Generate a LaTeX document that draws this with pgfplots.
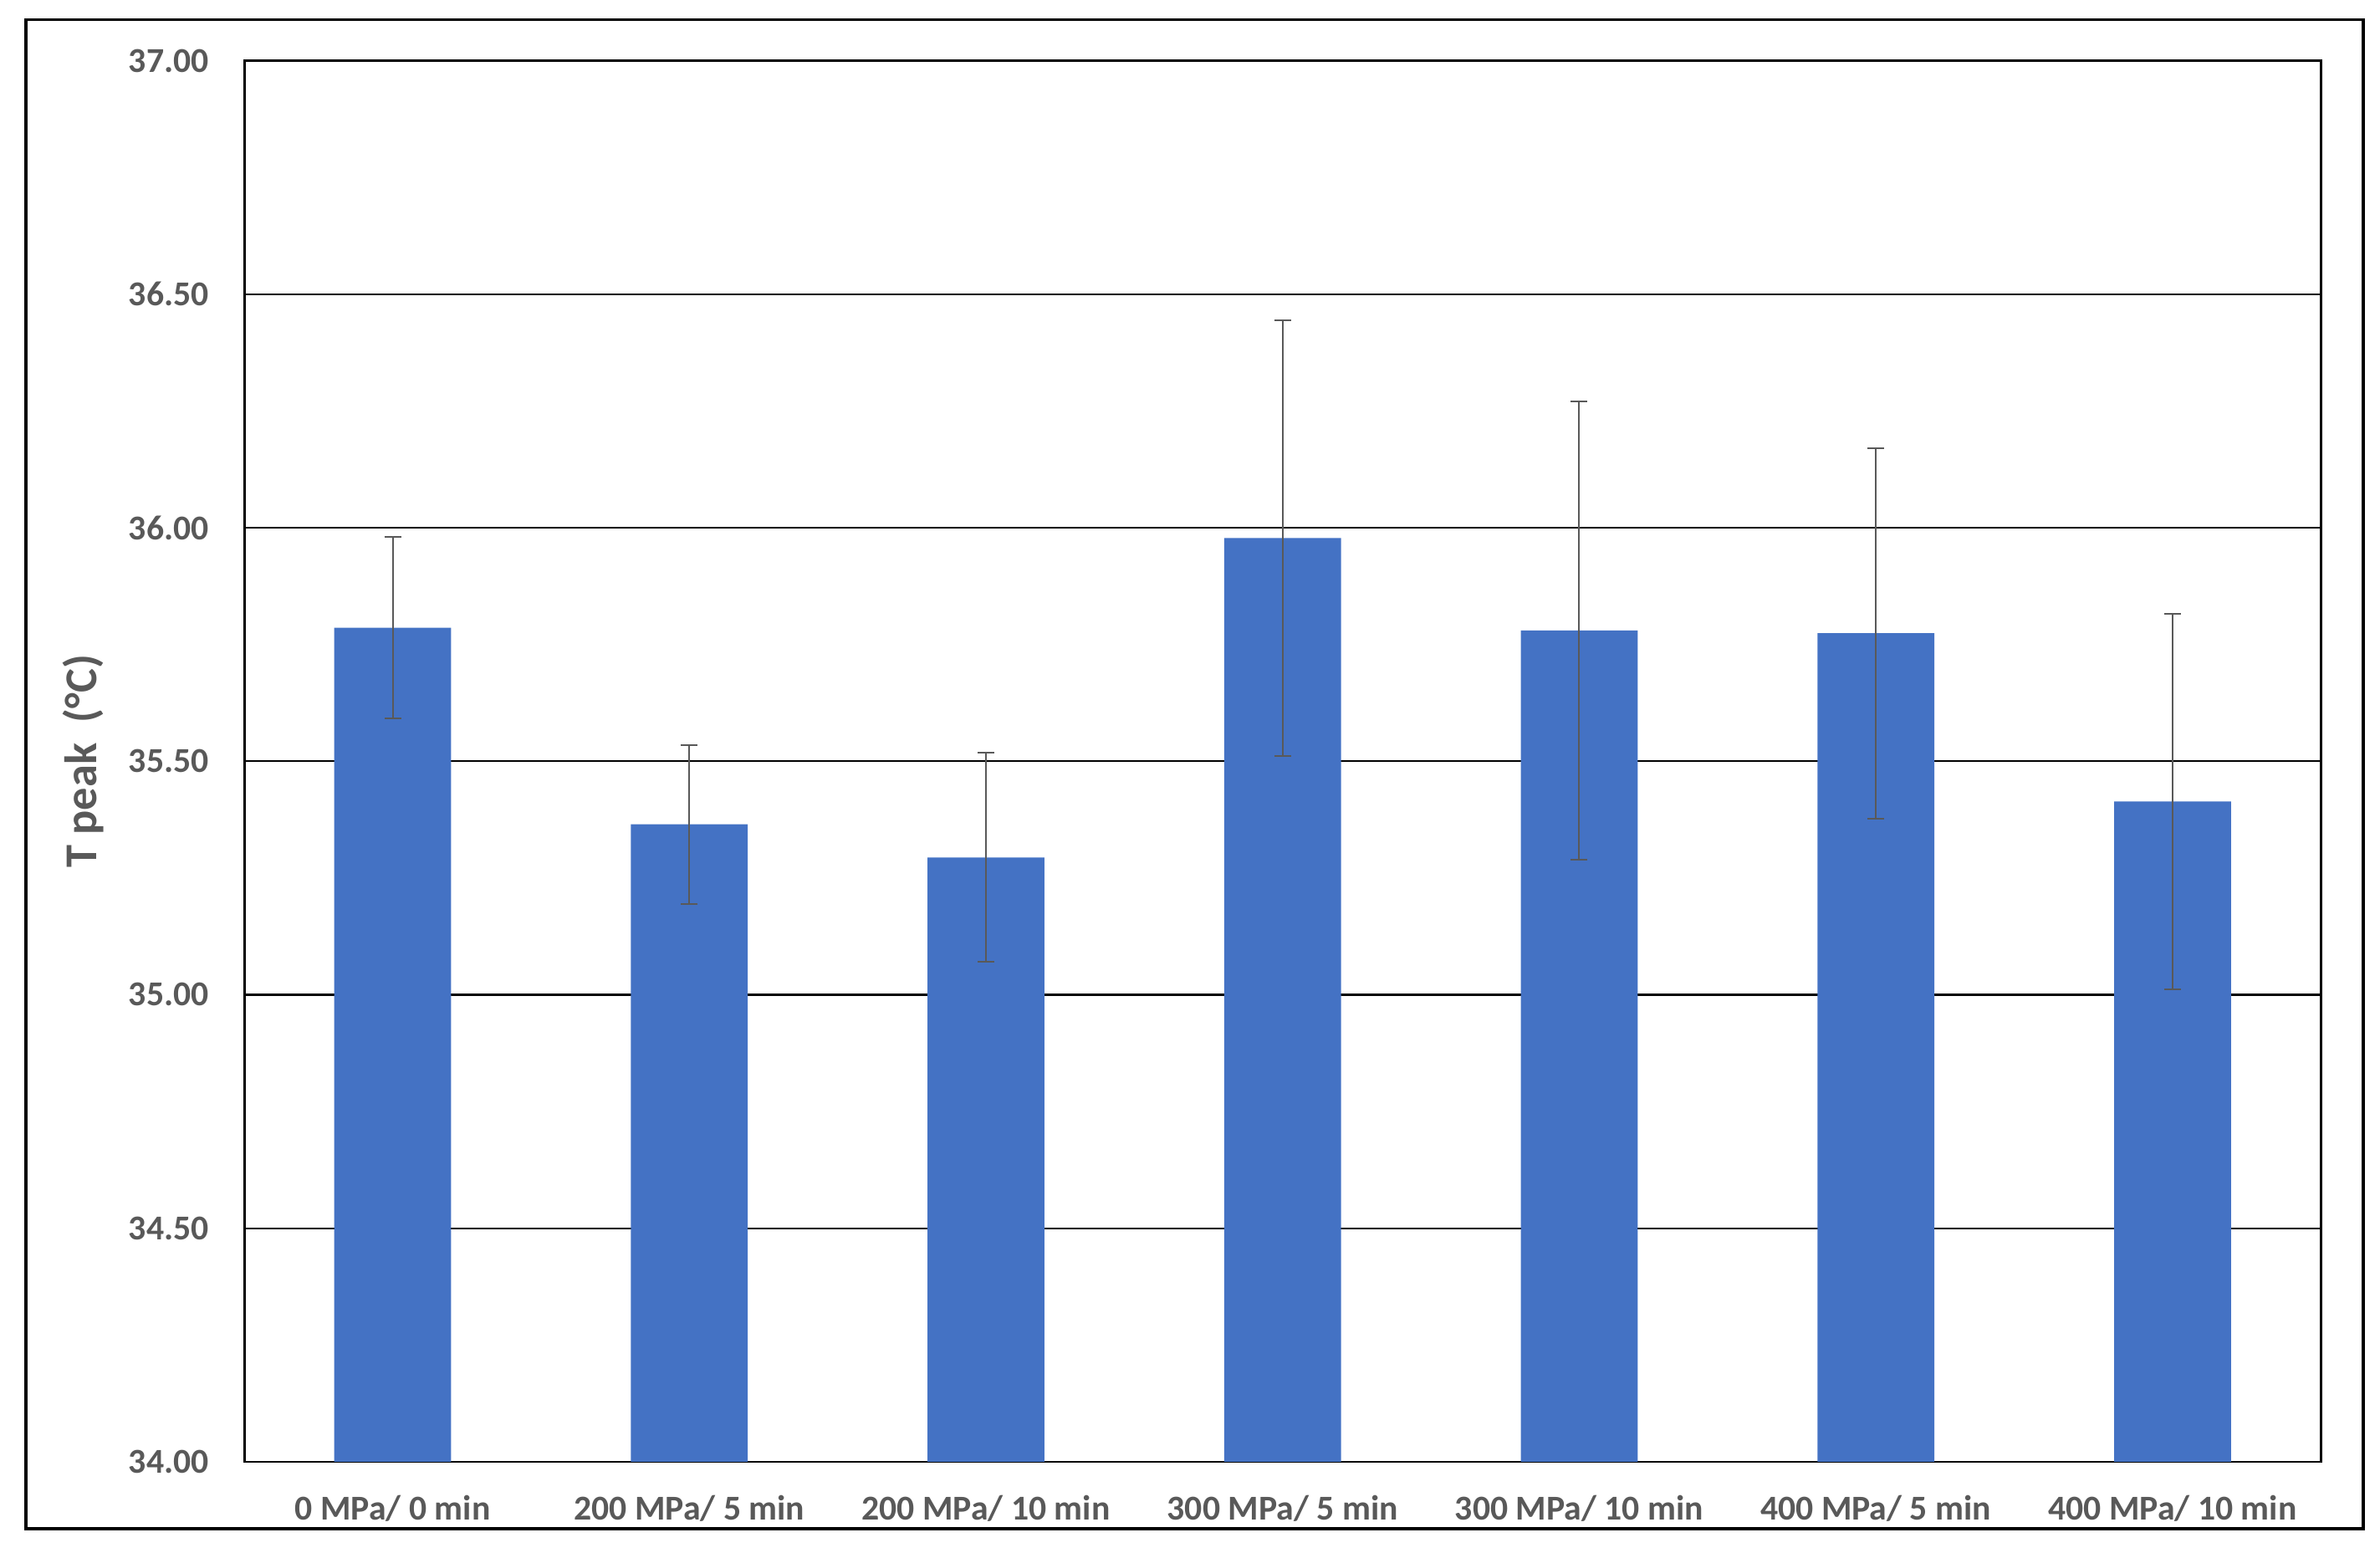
\documentclass[border=0pt]{standalone}
\usepackage{fontspec}
\setmainfont{Carlito}
\usepackage{pgfplots}
\pgfplotsset{compat=1.18}
\definecolor{barblue}{HTML}{4472C4}
\definecolor{txtgray}{HTML}{595959}

\pgfplotstableread{
x y e
0 35.786 0.195
1 35.365 0.170
2 35.294 0.224
3 35.978 0.467
4 35.780 0.490
5 35.774 0.397
6 35.414 0.402
}\peakdata

\begin{document}
\begin{tikzpicture}
\useasboundingbox (-80.5pt,-31.5pt) rectangle (703.5pt,481.5pt);
\draw[line width=1pt] (-72pt,-22pt) rectangle (698pt,475pt);
\begin{axis}[
  at={(0,0)}, anchor=south west,
  scale only axis, width=684pt, height=461.5pt,
  xmin=-0.5, xmax=6.5, ymin=34, ymax=37,
  xtick={0,...,6},
  xticklabels={0 MPa/ 0 min, 200 MPa/ 5 min, 200 MPa/ 10 min, 300 MPa/ 5 min,
    300 MPa/ 10 min, 400 MPa/ 5 min, 400 MPa/ 10 min},
  ytick={34,34.5,...,37},
  major tick length=0pt,
  ymajorgrids, grid style={black, line width=0.6pt},
  axis line style={black, line width=0.75pt},
  /pgf/number format/assume math mode=true,
  yticklabel={\pgfmathprintnumber[fixed, fixed zerofill, precision=2]{\tick}},
  ticklabel style={font=\fontsize{11.5}{13}\selectfont\bfseries, text=txtgray},
  yticklabel style={anchor=east, inner sep=0pt, xshift=-11.5pt},
  xticklabel style={anchor=north, inner sep=0pt, yshift=-11pt},
  ylabel={T peak\ \ (°C)},
  ylabel style={at={([xshift=-53pt]axis description cs:0,0.5)}, anchor=center,
    font=\fontsize{15}{18}\selectfont\bfseries, text=txtgray},
]
\addplot[ybar, fill=barblue, draw=none, bar width=0.394,
  error bars/.cd, y dir=both, y explicit,
  error bar style={color=txtgray, line width=0.55pt},
  error mark options={rotate=90, mark size=2.75pt, line width=0.55pt, color=txtgray}]
  table[x=x, y=y, y error=e] {\peakdata};
\end{axis}
\end{tikzpicture}
\end{document}
